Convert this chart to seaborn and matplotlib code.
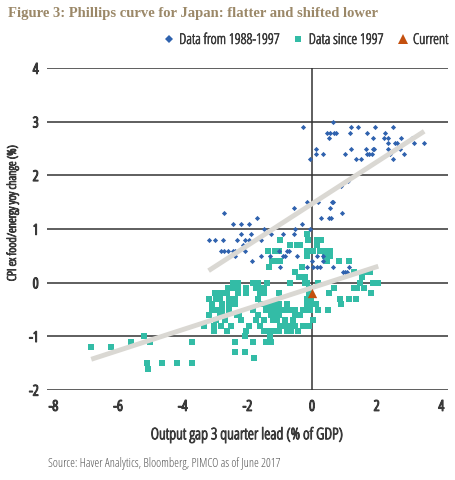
import pandas as pd
import matplotlib
matplotlib.use('Agg')
import matplotlib.pyplot as plt
import matplotlib.patheffects as pe
import seaborn as sns
from matplotlib.lines import Line2D

# Output gap (x) and core CPI (y), one line per CPI level
old_points = [
    (0.64, 3.0),
    (-0.27, 2.9), (1.20, 2.9), (1.42, 2.9), (1.96, 2.9), (2.49, 2.9),
    (0.45, 2.8), (0.57, 2.8), (0.69, 2.8), (0.74, 2.8), (1.17, 2.8), (1.70, 2.8), (2.26, 2.8),
    (0.54, 2.7), (1.89, 2.7), (2.22, 2.7), (2.35, 2.7), (2.76, 2.7), (3.09, 2.7),
    (2.35, 2.6), (2.57, 2.6), (2.63, 2.6), (3.17, 2.6), (3.47, 2.6),
    (0.13, 2.5), (1.21, 2.5), (1.68, 2.5), (1.89, 2.5), (1.92, 2.5), (2.35, 2.5), (2.73, 2.5),
    (0.13, 2.4), (0.34, 2.4), (1.01, 2.4), (1.69, 2.4), (1.76, 2.4), (1.85, 2.4), (2.41, 2.4), (2.86, 2.4),
    (-0.06, 2.3), (1.35, 2.3), (1.52, 2.3), (2.49, 2.3),
    (1.10, 1.9), (0.89, 1.8),
    (-0.16, 1.5), (0.20, 1.5), (0.62, 1.5), (0.65, 1.5),
    (-0.57, 1.4), (0.57, 1.4),
    (-2.72, 1.3), (0.94, 1.3),
    (-1.70, 1.2), (0.28, 1.2), (0.54, 1.2), (0.60, 1.2),
    (-2.46, 1.1), (-2.19, 1.1), (-1.95, 1.1), (-0.30, 1.1),
    (-1.48, 1.0), (-0.53, 1.0), (-0.06, 1.0),
    (-2.19, 0.9), (-1.89, 0.9), (-1.28, 0.9), (-0.91, 0.9), (-0.55, 0.9),
    (-3.20, 0.8), (-2.99, 0.8), (-2.76, 0.8), (-2.32, 0.8), (-2.07, 0.8), (-1.94, 0.8), (-1.58, 0.8),
    (-2.15, 0.7),
    (-2.82, 0.6), (-2.71, 0.6), (-2.61, 0.6), (-2.44, 0.6), (-2.38, 0.6), (-2.07, 0.6),
    (-1.03, 0.6), (-0.78, 0.6), (-0.71, 0.6),
    (-2.38, 0.5), (-1.58, 0.5), (-1.31, 0.5), (-0.91, 0.5), (-0.83, 0.5), (-0.45, 0.5), (0.16, 0.5), (0.35, 0.5),
    (-1.85, 0.4), (0.01, 0.4), (0.35, 0.4),
    (-0.98, 0.3), (-0.16, 0.3), (0.04, 0.3), (0.15, 0.3), (0.24, 0.3), (0.64, 0.3), (1.15, 0.3),
    (0.95, 0.2), (1.01, 0.2), (1.07, 0.2),
]

new_points = [
    (-0.17, 0.9),
    (-0.98, 0.8), (-0.12, 0.8), (0.14, 0.8), (0.28, 0.8),
    (-0.67, 0.7), (-0.45, 0.7), (-0.38, 0.7), (0.14, 0.7),
    (-1.37, 0.6), (-1.16, 0.6), (-1.01, 0.6), (-0.16, 0.6), (-0.06, 0.6), (0.04, 0.6),
    (0.25, 0.6), (0.35, 0.6), (0.45, 0.6), (0.56, 0.6),
    (-0.16, 0.5), (0.41, 0.5), (0.56, 0.5),
    (-1.24, 0.4), (-1.09, 0.4), (-0.98, 0.4), (0.45, 0.4), (0.83, 0.4), (1.14, 0.4),
    (-1.33, 0.3), (-0.30, 0.3),
    (-0.52, 0.2), (1.31, 0.2), (1.65, 0.2), (1.78, 0.2),
    (-0.40, 0.1), (-0.21, 0.1), (1.56, 0.1),
    (-2.46, 0.0), (-2.28, 0.0), (-1.82, 0.0), (-1.68, 0.0), (-1.39, 0.0), (-0.68, 0.0),
    (-0.22, 0.0), (-0.17, 0.0), (0.20, 0.0), (1.49, 0.0), (1.90, 0.0), (2.05, 0.0),
    (-2.59, -0.1), (-2.40, -0.1), (-2.28, -0.1), (-2.04, -0.1), (-1.74, -0.1), (-1.61, -0.1),
    (-1.49, -0.1), (-0.09, -0.1), (0.67, -0.1), (1.30, -0.1), (1.40, -0.1), (1.62, -0.1),
    (-3.00, -0.2), (-2.82, -0.2), (-2.62, -0.2), (-2.28, -0.2), (-2.04, -0.2), (-1.61, -0.2),
    (-1.49, -0.2), (-1.02, -0.2), (-0.10, -0.2), (0.51, -0.2), (1.82, -0.2),
    (-3.19, -0.3), (-2.98, -0.3), (-2.85, -0.3), (-2.56, -0.3), (-2.37, -0.3), (-1.66, -0.3),
    (-0.16, -0.3), (-0.02, -0.3), (0.85, -0.3), (1.13, -0.3), (1.35, -0.3),
    (-3.08, -0.4), (-2.80, -0.4), (-2.56, -0.4), (-2.38, -0.4), (-1.58, -0.4), (-1.38, -0.4),
    (-1.22, -0.4), (-1.01, -0.4), (-0.76, -0.4), (-0.16, -0.4), (-0.03, -0.4), (0.11, -0.4), (0.91, -0.4),
    (-3.08, -0.5), (-2.90, -0.5), (-2.78, -0.5), (-2.58, -0.5), (-1.84, -0.5), (-1.43, -0.5),
    (-1.27, -0.5), (-1.13, -0.5), (-0.96, -0.5), (-0.76, -0.5), (-0.68, -0.5), (-0.52, -0.5),
    (-0.29, -0.5), (-0.22, -0.5), (-0.06, -0.5), (0.18, -0.5), (0.48, -0.5),
    (-3.19, -0.6), (-2.85, -0.6), (-2.78, -0.6), (-2.33, -0.6), (-2.25, -0.6), (-1.66, -0.6),
    (-1.28, -0.6), (-1.15, -0.6), (-1.01, -0.6), (-0.52, -0.6), (-0.37, -0.6),
    (-2.98, -0.7), (-2.68, -0.7), (-2.19, -0.7), (-1.74, -0.7), (-1.48, -0.7), (-1.20, -0.7),
    (-1.07, -0.7), (-0.85, -0.7), (-0.58, -0.7), (0.04, -0.7),
    (-3.35, -0.8), (-3.04, -0.8), (-2.83, -0.8), (-2.50, -0.8), (-1.94, -0.8), (-1.62, -0.8),
    (-0.99, -0.8), (-0.84, -0.8), (-0.65, -0.8), (-0.53, -0.8), (-0.27, -0.8), (-0.08, -0.8),
    (-3.04, -0.9), (-2.64, -0.9), (-2.05, -0.9), (-1.49, -0.9), (-1.35, -0.9), (-1.22, -0.9),
    (-1.01, -0.9), (-0.78, -0.9), (-0.65, -0.9), (-0.44, -0.9),
    (-5.19, -1.0), (-2.08, -1.0), (-1.29, -1.0),
    (-5.60, -1.1), (-5.00, -1.1), (-3.71, -1.1), (-2.39, -1.1), (-1.83, -1.1), (-1.41, -1.1), (-1.26, -1.1),
    (-6.83, -1.2), (-6.22, -1.2),
    (-2.39, -1.3), (-2.07, -1.3),
    (-1.79, -1.4),
    (-5.12, -1.5), (-4.63, -1.5), (-4.17, -1.5), (-3.70, -1.5),
    (-5.07, -1.6),
]

current_point = (0.0, -0.2)

x_ticks = [-8, -6, -4, -2, 0, 2, 4]
x_tick_labels = ['-8', '-6', '-4', '-2', '0', '2', '4']
y_ticks = [-2, -1, 0, 1, 2, 3, 4]
y_tick_labels = ['-2', '-1', '0', '1', '2', '3', '4']

BLUE = '#2f62ae'
TEAL = '#33bca6'
ORANGE = '#c4500f'
FIT = '#dad8d3'
INK = '#3a3a3a'

old_df = pd.DataFrame(old_points, columns=['gap', 'cpi'])
new_df = pd.DataFrame(new_points, columns=['gap', 'cpi'])

sns.set_theme(style='white')
plt.rcParams['font.family'] = ['Open Sans', 'DejaVu Sans']
plt.rcParams['font.stretch'] = 'condensed'
plt.rcParams['axes.unicode_minus'] = False


def heavier(width):
    # the condensed face is light; a thin stroke in the same ink thickens it
    return [pe.withStroke(linewidth=width, foreground=INK)]


fig, ax = plt.subplots(figsize=(4.56, 4.8), dpi=100)
fig.subplots_adjust(left=0.103, right=0.982, bottom=0.1875, top=0.858)

sns.scatterplot(data=new_df, x='gap', y='cpi', marker='s', s=13, color=TEAL,
                linewidth=0, ax=ax, zorder=3, legend=False)
sns.scatterplot(data=old_df, x='gap', y='cpi', marker='D', s=7, color=BLUE,
                linewidth=0, ax=ax, zorder=3, legend=False)

# regression lines, truncated to each sample's range
for df in (old_df, new_df):
    sns.regplot(data=df, x='gap', y='cpi', scatter=False, ci=None, truncate=True,
                color=FIT, ax=ax,
                line_kws={'lw': 3.5, 'zorder': 4, 'solid_capstyle': 'butt'})

ax.scatter([current_point[0]], [current_point[1]], marker='^', s=45,
           color=ORANGE, linewidth=0, zorder=5)

ax.set_xlim(-8.2, 4.2)
ax.set_ylim(-2, 4)
ax.set_xticks(x_ticks)
ax.set_xticklabels(x_tick_labels)
ax.set_yticks(y_ticks)
ax.set_yticklabels(y_tick_labels)
ax.tick_params(length=0, labelsize=10.5, labelcolor=INK)
ax.tick_params(axis='x', pad=7)
ax.tick_params(axis='y', pad=6)
for lab in ax.get_xticklabels() + ax.get_yticklabels():
    lab.set_path_effects(heavier(1.0))

for side in ['top', 'right', 'bottom', 'left']:
    ax.spines[side].set_visible(False)
ax.set_axisbelow(True)
ax.yaxis.grid(True, color='#333333', lw=1.1)
ax.xaxis.grid(False)
ax.axvline(0, color='#333333', lw=1.1, zorder=1)

ax.set_xlabel('Output gap 3 quarter lead (% of GDP)', fontsize=11.4, color=INK,
              labelpad=9, path_effects=heavier(0.7))
ax.set_ylabel('CPI ex food/energy yoy change (%)', fontsize=8.8, color=INK,
              path_effects=heavier(0.7))
ax.yaxis.set_label_coords(-0.07, 0.55)

handles = [
    Line2D([], [], marker='D', ls='none', color=BLUE, markersize=4.5, markeredgewidth=0),
    Line2D([], [], marker='s', ls='none', color=TEAL, markersize=5, markeredgewidth=0),
    Line2D([], [], marker='^', ls='none', color=ORANGE, markersize=6.5, markeredgewidth=0),
]
leg = ax.legend(handles, ['Data from 1988-1997', 'Data since 1997', 'Current'],
                loc='lower right', bbox_to_anchor=(1.02, 1.04), ncol=3, frameon=False,
                fontsize=10.6, handlelength=0.8, handletextpad=0.3, columnspacing=0.9,
                borderpad=0, labelcolor=INK)
for t in leg.get_texts():
    t.set_path_effects(heavier(0.45))

fig.text(8 / 456, 1 - 13 / 480, 'Figure 3: Phillips curve for Japan: flatter and shifted lower',
         fontfamily=['Liberation Serif', 'DejaVu Serif'], fontstretch='normal',
         fontweight='bold', fontsize=10.5, color='#9b8868', va='center', ha='left')
fig.text(48 / 456, 1 - 463 / 480, 'Source: Haver Analytics, Bloomberg, PIMCO as of June 2017',
         fontsize=8.7, color='#555555', va='center', ha='left')

fig.savefig('out.png', dpi=100)
